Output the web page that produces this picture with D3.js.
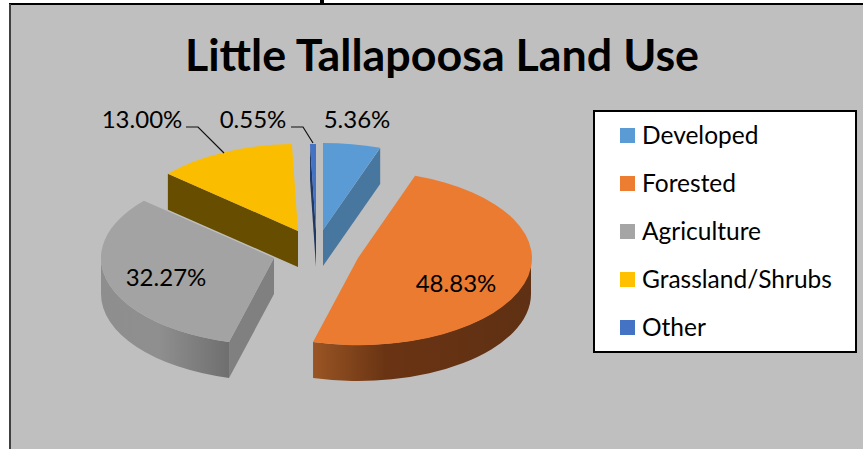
<!DOCTYPE html>
<html>
<head>
<meta charset="utf-8">
<script src="https://cdn.jsdelivr.net/npm/d3@7/dist/d3.min.js"></script>
<style>
  html, body { margin: 0; padding: 0; background: #fff; overflow: hidden; }
  svg { display: block; }
  text { font-family: Lato, "Noto Sans", sans-serif; fill: #000; }
</style>
</head>
<body>
<svg id="chart" width="863" height="449"></svg>
<script>
// Land use shares, in percent
const categories = ["Developed", "Forested", "Agriculture", "Grassland/Shrubs", "Other"];
const shares = [5.36, 48.83, 32.27, 13.00, 0.55];
const shareLabels = ["5.36%", "48.83%", "32.27%", "13.00%", "0.55%"];
const chartTitle = "Little Tallapoosa Land Use";

// Face colours for each category, plus the shaded cut faces
const faceColors = ["#5b9bd5", "#ed7d31", "#a5a5a5", "#ffc000", "#4472c4"];
const sliceTops = ["#5b9bd5", "#eb7b31", "#a3a3a3", "#fbbd00", "#4472c4"];
const cutColors = ["#47769f", "#5f3013", "#808080", "#664d00", "#1f3864"];

// Pie projection and per-slice explosion
const rx = 173, ry = 87, depth = 36;
const centers = [[323, 230], [358, 258], [274, 258], [298, 231], [316, 231]];

const svg = d3.select("#chart");

// Small serif foot resting on the frame's top edge
svg.append("path").attr("d", "M320,0H324V3H326V4H318V3H320Z").attr("fill", "#000");

// Plot background and its frame
svg.append("rect").attr("x", 10).attr("y", 4).attr("width", 853).attr("height", 445).attr("fill", "#bfbfbf");
svg.append("line").attr("x1", 9).attr("x2", 863).attr("y1", 4).attr("y2", 4).attr("stroke", "#000").attr("stroke-width", 2);
svg.append("line").attr("x1", 10).attr("x2", 10).attr("y1", 4).attr("y2", 449).attr("stroke", "#404040").attr("stroke-width", 2);

svg.append("text").attr("x", 442).attr("y", 71).attr("text-anchor", "middle")
  .attr("font-size", 44.8).attr("font-weight", 700).text(chartTitle);

const defs = svg.append("defs");
function wallGradient(id, stops) {
  const g = defs.append("linearGradient").attr("id", id)
    .attr("x1", 0).attr("x2", 1).attr("y1", 0).attr("y2", 0);
  stops.forEach(([o, c]) => g.append("stop").attr("offset", o).attr("stop-color", c));
}
wallGradient("wall-1", [[0, "#9a5524"], [0.33, "#6a3413"], [1, "#5f3013"]]);
wallGradient("wall-2", [[0, "#8e8e8e"], [0.45, "#8f8f8f"], [1, "#6f6f6f"]]);

const pie = d3.pie().sort(null).value(d => d)(shares);
const arcTop = d3.arc().innerRadius(0).outerRadius(1);
const pt = (c, a) => [c[0] + rx * Math.sin(a), c[1] - ry * Math.cos(a)];

// Back-to-front order so nearer slices overlap farther ones
const order = [0, 4, 2, 3, 1];
order.forEach(i => {
  const s = pie[i], c = centers[i], g = svg.append("g");

  // Flat faces produced by cutting the slice out of the pie
  [[s.startAngle, Math.sin(s.startAngle) < -1e-6], [s.endAngle, Math.sin(s.endAngle) > 1e-6]]
    .filter(d => d[1])
    .forEach(([a]) => {
      const o = pt(c, a), p = d3.path();
      p.moveTo(c[0], c[1]); p.lineTo(o[0], o[1]);
      p.lineTo(o[0], o[1] + depth); p.lineTo(c[0], c[1] + depth); p.closePath();
      g.append("path").attr("d", p.toString()).attr("fill", cutColors[i]);
    });

  // Rim: the part of the outer edge that faces the viewer
  const a0 = Math.max(s.startAngle, Math.PI / 2), a1 = Math.min(s.endAngle, 3 * Math.PI / 2);
  if (a1 > a0) {
    const p0 = pt(c, a0), p1 = pt(c, a1);
    g.append("path")
      .attr("d", `M${p0[0]},${p0[1]}A${rx},${ry} 0 0 1 ${p1[0]},${p1[1]}L${p1[0]},${p1[1] + depth}A${rx},${ry} 0 0 0 ${p0[0]},${p0[1] + depth}Z`)
      .attr("fill", `url(#wall-${i})`);
  }

  // Top face: a unit arc squashed into the ellipse
  g.append("path")
    .attr("d", arcTop(s))
    .attr("transform", `translate(${c[0]},${c[1]}) scale(${rx},${ry})`)
    .attr("fill", sliceTops[i]);
});

// Value labels and their leader lines
const labelAt = [[357, 128], [456, 292], [166, 286], [142, 128], [253, 128]];
shareLabels.forEach((t, i) => {
  svg.append("text").attr("x", labelAt[i][0]).attr("y", labelAt[i][1])
    .attr("text-anchor", "middle").attr("font-size", 24).text(t);
});
const leaders = [
  [[186, 127], [198, 127], [224, 153]],
  [[291, 127], [303, 127], [313, 143]]
];
const leaderLine = d3.line();
leaders.forEach(l => svg.append("path").attr("d", leaderLine(l))
  .attr("fill", "none").attr("stroke", "#111").attr("stroke-width", 1.2));

// Legend
const legend = svg.append("g");
legend.append("rect").attr("x", 594).attr("y", 111).attr("width", 262).attr("height", 241)
  .attr("fill", "#fff").attr("stroke", "#000").attr("stroke-width", 2);
const legendY = d3.scalePoint().domain(categories).range([135.5, 327.5]);
categories.forEach((name, i) => {
  legend.append("rect").attr("x", 620).attr("y", legendY(name) - 7.5).attr("width", 15).attr("height", 15).attr("fill", faceColors[i]);
  legend.append("text").attr("x", 642).attr("y", legendY(name) + 8).attr("font-size", 24.5).text(name);
});
</script>
</body>
</html>
